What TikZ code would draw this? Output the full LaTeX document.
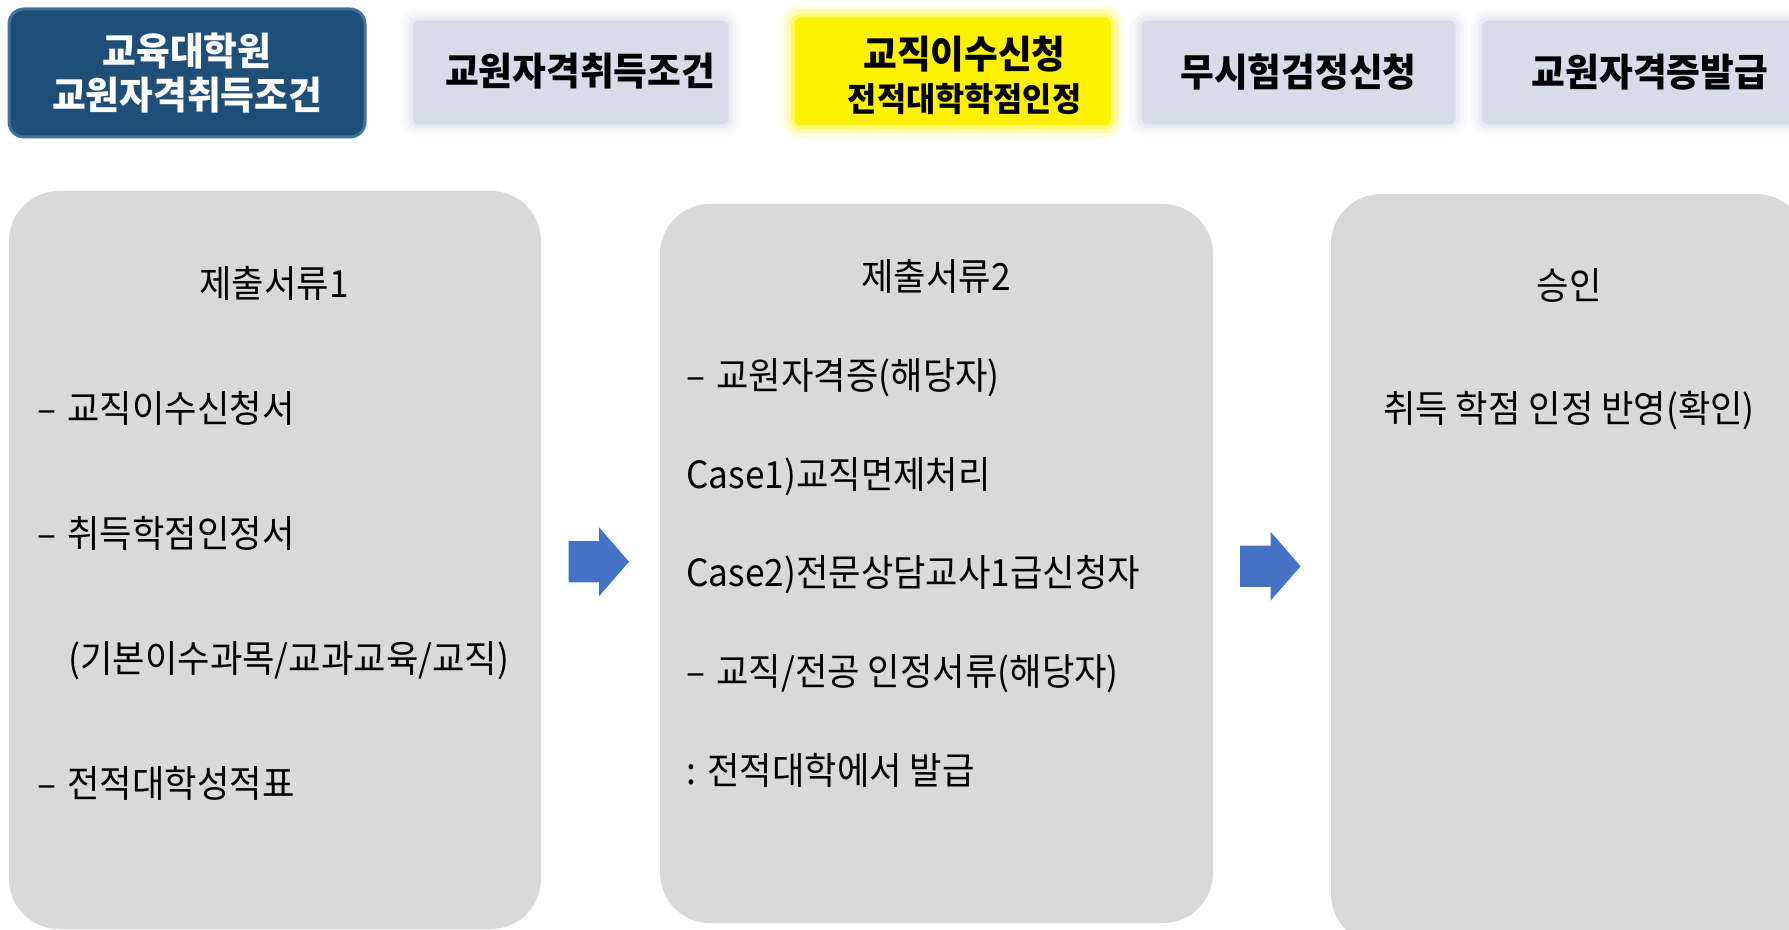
\documentclass[tikz,border=0pt]{standalone}
\usepackage{fontspec}
\newfontfamily\krfont[FakeStretch=0.94, BoldFeatures={FakeStretch=0.955}]{Noto Sans CJK KR}
\usetikzlibrary{calc}
\definecolor{navyfill}{HTML}{1F4E79}
\definecolor{navyline}{HTML}{41719C}
\definecolor{lavender}{HTML}{D6DCE9}
\definecolor{boxgray}{HTML}{D9D9D9}
\definecolor{arrowblue}{HTML}{4472C4}
\newcommand\dashitem{–\hspace{0.3em}}
\tikzset{
  navybox/.style={fill=navyfill, draw=navyline, line width=1.5pt, rounded corners=7.5pt,
    inner sep=0pt, text=white, align=center, font=\krfont\bfseries\fontsize{19.2}{22}\selectfont},
  topbox/.style={fill=#1, rounded corners=3pt, inner sep=0pt,
    preaction={draw=#1, line width=12pt, draw opacity=0.12},
    preaction={draw=#1, line width=8pt, draw opacity=0.2},
    preaction={draw=#1, line width=4pt, draw opacity=0.35},
    font=\krfont\bfseries\fontsize{19.2}{22}\selectfont},
  topbox/.default=lavender,
  docbox/.style={fill=boxgray, rounded corners=25pt, inner sep=0pt},
  txtline/.style={inner sep=0pt, text height=15.6pt, text depth=1.3pt,
    font=\krfont\fontsize{18.75}{22}\selectfont},
}
\begin{document}
\begin{tikzpicture}[x=0.5pt, y=-0.5pt]
  \useasboundingbox (0,0) rectangle (1789,930);
  \clip (0,0) rectangle (1789,930);
  % top bar
  \node[navybox, minimum width=178pt, minimum height=64pt] (tab-1) at (187,73)
    {교육대학원\\교원자격취득조건};
  \node[topbox, minimum width=158pt, minimum height=52pt] (tab-2) at (570.5,72.5) {};
  \node[txtline, font=\krfont\bfseries\fontsize{19.2}{22}\selectfont] (tab-2-a) at (580,71) {교원자격취득조건};
  \node[topbox=yellow, minimum width=158pt, minimum height=54pt] (tab-3) at (952.5,71.5) {};
  \node[txtline, font=\krfont\bfseries\fontsize{19.2}{22}\selectfont] (tab-3-a) at (964.5,54) {교직이수신청};
  \node[txtline, text height=13.8pt, text depth=1.2pt, font=\krfont\bfseries\fontsize{16.6}{20}\selectfont] (tab-3-b) at (964.5,99) {전적대학학점인정};
  \node[topbox, minimum width=157pt, minimum height=52pt] (tab-4) at (1298.5,72.5) {무시험검정신청};
  \node[topbox, minimum width=168pt, minimum height=52pt] (tab-5) at (1650,72.5) {교원자격증발급};
  % documents
  \node[docbox, minimum width=266pt, minimum height=369pt] (boxA) at (275,560) {};
  \node[docbox, minimum width=276.5pt, minimum height=359.5pt] (boxB) at (936.5,563.5) {};
  \node[docbox, minimum width=237.5pt, minimum height=375pt] (boxC) at (1568.5,569) {};
  \node[txtline] (t-A) at (274,283) {제출서류1};
  \foreach[count=\j] \lx/\lj in {37/{\dashitem 교직이수신청서}, 37/{\dashitem 취득학점인정서},
      68/{(기본이수과목/교과교육/교직)}, 37/{\dashitem 전적대학성적표}} {
    \node[txtline, anchor=west] (n-\j-A) at (\lx,283+125*\j) {\lj};
  }
  \node[txtline] (t-B) at (936,276.5) {제출서류2};
  \foreach[count=\j] \lj in {{\dashitem 교원자격증(해당자)}, {Case1)교직면제처리},
      {Case2)전문상담교사1급신청자}, {\dashitem 교직/전공 인정서류(해당자)}, {:\hspace{0.3em}전적대학에서 발급}} {
    \node[txtline, anchor=west] (n-\j-B) at (686,276.25+98.75*\j) {\lj};
  }
  \node[txtline] (t-C) at (1569,285) {승인};
  \node[txtline] (n-1-C) at (1569,408) {취득 학점 인정 반영(확인)};
  % block arrows
  \foreach \a/\b in {boxA/boxB, boxB/boxC}
    \fill[arrowblue, shift={($(\a.east)!0.5!(\b.west)$)}]
      (-32,-20.5) -- (-1.5,-20.5) -- (-1.5,-34.5) -- (28.5,0) -- (-1.5,34.5) -- (-1.5,20.5) -- (-32,20.5) -- cycle;
\end{tikzpicture}
\end{document}
